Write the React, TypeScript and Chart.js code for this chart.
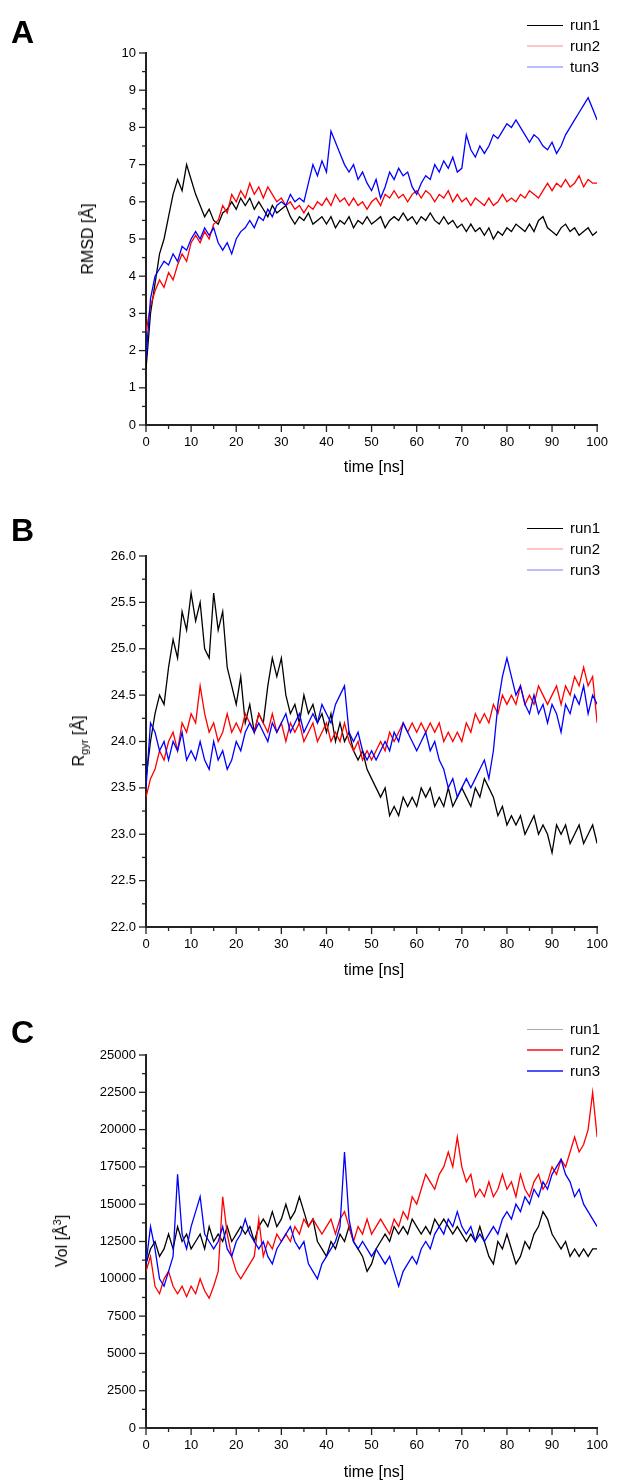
import React, { useEffect, useRef } from 'react';
import { Chart, registerables } from 'chart.js';

Chart.register(...registerables);

const FONT = "'Liberation Sans', Arial, Helvetica, sans-serif";

// time axis (ns)
const times = [
  0, 1, 2, 3, 4, 5, 6, 7, 8, 9, 10, 11, 12, 13, 14, 15, 16, 17, 18, 19, 20,
  21, 22, 23, 24, 25, 26, 27, 28, 29, 30, 31, 32, 33, 34, 35, 36, 37, 38, 39, 40,
  41, 42, 43, 44, 45, 46, 47, 48, 49, 50, 51, 52, 53, 54, 55, 56, 57, 58, 59, 60,
  61, 62, 63, 64, 65, 66, 67, 68, 69, 70, 71, 72, 73, 74, 75, 76, 77, 78, 79, 80,
  81, 82, 83, 84, 85, 86, 87, 88, 89, 90, 91, 92, 93, 94, 95, 96, 97, 98, 99, 100,
];

const legendA = ['run1', 'run2', 'tun3'];
const legendB = ['run1', 'run2', 'run3'];
const legendC = ['run1', 'run2', 'run3'];

// Panel A: RMSD [Å]
const rmsdRun1 = [
  1.5, 3.0, 3.8, 4.6, 5.0, 5.6, 6.2, 6.6, 6.3, 7.0, 6.6, 6.2, 5.9, 5.6, 5.8, 5.5, 5.4, 5.7, 5.8, 6.0, 5.8,
  6.1, 5.9, 6.1, 5.8, 6.0, 5.8, 5.6, 5.9, 5.7, 5.8, 5.9, 5.6, 5.4, 5.6, 5.5, 5.7, 5.4, 5.5, 5.6, 5.4,
  5.6, 5.3, 5.5, 5.4, 5.6, 5.3, 5.5, 5.4, 5.6, 5.4, 5.5, 5.6, 5.3, 5.5, 5.6, 5.5, 5.7, 5.5, 5.6, 5.4,
  5.6, 5.5, 5.7, 5.5, 5.4, 5.6, 5.4, 5.5, 5.3, 5.4, 5.2, 5.4, 5.2, 5.3, 5.1, 5.3, 5.0, 5.2, 5.1, 5.3,
  5.2, 5.4, 5.3, 5.2, 5.4, 5.2, 5.5, 5.6, 5.3, 5.2, 5.1, 5.3, 5.4, 5.2, 5.3, 5.1, 5.2, 5.3, 5.1, 5.2,
];
const rmsdRun2 = [
  2.5, 3.2, 3.6, 3.9, 3.7, 4.1, 3.9, 4.3, 4.6, 4.4, 4.9, 5.1, 4.9, 5.2, 5.0, 5.4, 5.5, 5.9, 5.7, 6.2, 6.0,
  6.3, 6.1, 6.5, 6.2, 6.4, 6.1, 6.4, 6.2, 6.0, 6.1, 5.9, 6.0, 5.8, 5.9, 5.7, 5.9, 5.8, 6.0, 5.9, 6.1,
  5.9, 6.2, 6.0, 6.1, 5.9, 6.1, 5.9, 6.0, 5.8, 6.0, 6.1, 5.9, 6.2, 6.1, 6.3, 6.1, 6.2, 6.0, 6.2, 6.3,
  6.1, 6.3, 6.2, 6.0, 6.2, 6.1, 6.3, 6.0, 6.2, 6.0, 6.1, 5.9, 6.1, 6.0, 5.9, 6.1, 5.9, 6.0, 6.2, 6.0,
  6.1, 6.0, 6.2, 6.1, 6.3, 6.2, 6.1, 6.3, 6.5, 6.3, 6.5, 6.4, 6.6, 6.4, 6.5, 6.7, 6.4, 6.6, 6.5, 6.5,
];
const rmsdRun3 = [
  1.8, 3.4, 4.0, 4.2, 4.4, 4.3, 4.6, 4.4, 4.8, 4.7, 5.0, 5.2, 5.0, 5.3, 5.1, 5.3, 4.9, 4.7, 4.9, 4.6, 5.0,
  5.2, 5.3, 5.5, 5.3, 5.6, 5.5, 5.8, 5.6, 5.9, 6.0, 5.9, 6.2, 6.0, 6.1, 6.0, 6.5, 7.0, 6.7, 7.1, 6.8,
  7.9, 7.6, 7.3, 7.0, 6.8, 7.0, 6.6, 6.8, 6.5, 6.3, 6.6, 6.1, 6.4, 6.8, 6.6, 6.9, 6.7, 6.8, 6.4, 6.2,
  6.5, 6.7, 6.6, 7.0, 6.8, 7.1, 6.9, 7.2, 6.8, 6.9, 7.8, 7.4, 7.2, 7.5, 7.3, 7.5, 7.8, 7.7, 7.9, 8.1,
  8.0, 8.2, 8.0, 7.8, 7.6, 7.8, 7.7, 7.5, 7.4, 7.6, 7.3, 7.5, 7.8, 8.0, 8.2, 8.4, 8.6, 8.8, 8.5, 8.2,
];

// Panel B: Rgyr [Å]
const rgyrRun1 = [
  23.6, 24.0, 24.3, 24.5, 24.4, 24.8, 25.1, 24.9, 25.4, 25.2, 25.6, 25.3, 25.5, 25.0, 24.9, 25.6, 25.2, 25.4, 24.8, 24.6, 24.4,
  24.7, 24.2, 24.4, 24.1, 24.3, 24.2, 24.6, 24.9, 24.7, 24.9, 24.5, 24.3, 24.4, 24.2, 24.5, 24.3, 24.4, 24.2, 24.3, 24.1,
  24.3, 24.0, 24.2, 24.0, 24.1, 23.9, 23.8, 23.9, 23.7, 23.6, 23.5, 23.4, 23.5, 23.2, 23.3, 23.2, 23.4, 23.3, 23.4, 23.3,
  23.5, 23.4, 23.5, 23.3, 23.4, 23.3, 23.5, 23.3, 23.4, 23.5, 23.4, 23.3, 23.5, 23.4, 23.6, 23.5, 23.4, 23.2, 23.3, 23.1,
  23.2, 23.1, 23.2, 23.0, 23.1, 23.2, 23.0, 23.1, 23.0, 22.8, 23.1, 23.0, 23.1, 22.9, 23.0, 23.1, 22.9, 23.0, 23.1, 22.9,
];
const rgyrRun2 = [
  23.4, 23.6, 23.7, 23.9, 23.8, 24.0, 24.1, 23.9, 24.2, 24.1, 24.3, 24.2, 24.6, 24.3, 24.1, 24.2, 24.0, 24.1, 24.3, 24.1, 24.2,
  24.1, 24.3, 24.2, 24.1, 24.3, 24.2, 24.1, 24.3, 24.1, 24.2, 24.0, 24.2, 24.1, 24.2, 24.0, 24.1, 24.2, 24.0, 24.1, 24.2,
  24.0, 24.1, 24.0, 24.2, 24.0, 23.9, 24.0, 23.8, 23.9, 23.8, 23.9, 24.0, 23.9, 24.1, 24.0, 24.1, 24.2, 24.1, 24.2, 24.1,
  24.2, 24.1, 24.2, 24.1, 24.2, 24.0, 24.1, 24.0, 24.1, 24.0, 24.2, 24.1, 24.3, 24.2, 24.3, 24.2, 24.4, 24.3, 24.5, 24.4,
  24.5, 24.4, 24.6, 24.4, 24.5, 24.4, 24.6, 24.5, 24.4, 24.5, 24.6, 24.4, 24.6, 24.5, 24.7, 24.6, 24.8, 24.6, 24.7, 24.2,
];
const rgyrRun3 = [
  23.5, 24.2, 24.1, 23.9, 24.0, 23.8, 24.0, 23.9, 24.1, 23.8, 23.9, 23.8, 24.0, 23.8, 23.7, 24.0, 23.8, 23.9, 23.7, 23.8, 24.0,
  23.9, 24.1, 24.2, 24.1, 24.2, 24.1, 24.0, 24.2, 24.1, 24.2, 24.3, 24.1, 24.2, 24.3, 24.1, 24.2, 24.3, 24.2, 24.4, 24.3,
  24.2, 24.4, 24.5, 24.6, 24.1, 24.0, 24.1, 23.9, 23.8, 23.9, 23.8, 23.9, 24.0, 23.9, 24.1, 24.0, 24.2, 24.1, 24.0, 23.9,
  24.0, 24.1, 23.9, 24.0, 23.8, 23.7, 23.5, 23.6, 23.4, 23.5, 23.6, 23.5, 23.6, 23.7, 23.8, 23.6, 23.9, 24.4, 24.7, 24.9,
  24.7, 24.5, 24.6, 24.4, 24.3, 24.5, 24.3, 24.4, 24.2, 24.4, 24.3, 24.1, 24.4, 24.3, 24.5, 24.4, 24.6, 24.3, 24.5, 24.4,
];

// Panel C: Vol [Å³]
const volRun1 = [
  11000, 12000, 12500, 11500, 12000, 13000, 12000, 13500, 12500, 13000, 12000, 12500, 13000, 12000, 13500, 12500, 13000, 12500, 13500, 12500, 13000,
  13500, 13000, 13500, 12500, 13500, 14000, 13500, 14500, 13500, 14000, 15000, 14000, 14500, 15500, 14500, 13500, 14000, 12500, 12000, 11500,
  12500, 12000, 13000, 12500, 13500, 12500, 12000, 11500, 10500, 11000, 12000, 12500, 13000, 12500, 13500, 13000, 13500, 13000, 14000, 13500,
  13000, 13500, 13000, 14000, 13500, 14000, 13500, 13000, 13500, 13000, 12500, 13000, 12500, 13500, 12500, 11500, 11000, 12500, 12000, 13000,
  12000, 11000, 11500, 12500, 12000, 13000, 13500, 14500, 14000, 13000, 12500, 12000, 12500, 11500, 12000, 11500, 12000, 11500, 12000, 12000,
];
const volRun2 = [
  10500, 11500, 9500, 9000, 10000, 10500, 9500, 9000, 9500, 8800, 9500, 9000, 10000, 9200, 8700, 9500, 10500, 15500, 13000, 11500, 10500,
  10000, 10500, 11000, 11500, 14000, 11500, 12500, 12000, 13000, 12500, 13000, 12500, 13500, 13000, 14000, 13500, 14000, 13500, 13000, 13500,
  14000, 13000, 14000, 14500, 13500, 12500, 13500, 13000, 14000, 13000, 13500, 14000, 13500, 13000, 14000, 13500, 14500, 14000, 15500, 15000,
  16000, 17000, 16500, 16000, 17000, 17500, 18500, 17500, 19500, 17500, 16500, 17000, 15500, 16000, 15500, 16500, 15500, 16000, 17000, 16000,
  16500, 15500, 17000, 16000, 15500, 16500, 17000, 16000, 16500, 17500, 17000, 18000, 17500, 18500, 19500, 18500, 19000, 20000, 22500, 19500,
];
const volRun3 = [
  11000, 13500, 12000, 10000, 9500, 10500, 11500, 17000, 13000, 12000, 13500, 14500, 15500, 13000, 12500, 12000, 12500, 13500, 12000, 11500, 12500,
  13000, 14000, 13000, 12500, 12000, 12500, 11500, 11000, 12000, 12500, 13000, 13500, 12500, 12000, 12500, 11000, 10500, 10000, 11000, 11500,
  12000, 12500, 13500, 18500, 14000, 12500, 12000, 12500, 12000, 11500, 12000, 11500, 11000, 11500, 10500, 9500, 10500, 11000, 11500, 11000,
  12000, 12500, 12000, 13000, 13500, 13000, 14000, 13500, 14500, 13500, 13000, 13500, 12500, 13000, 12500, 13000, 13500, 13000, 14000, 14500,
  14000, 15000, 14500, 15500, 15000, 16000, 15500, 16500, 16000, 17000, 17500, 18000, 17000, 16500, 15500, 16000, 15000, 14500, 14000, 13500,
];

const COLORS = ['#000000', '#ff0000', '#0000ff'];

type PanelProps = {
  top: number;
  height: number;
  plotTop: number;
  plotBottom: number;
  yMin: number;
  yMax: number;
  yStep: number;
  yMajor: number;
  yDecimals: number;
  names: string[];
  series: number[][];
};

function isMajor(v: number, major: number) {
  const r = v / major;
  return Math.abs(r - Math.round(r)) < 1e-6;
}

function PanelChart(p: PanelProps) {
  const ref = useRef<HTMLCanvasElement>(null);
  useEffect(() => {
    const canvas = ref.current;
    if (!canvas) return;
    const padTop = p.plotTop - p.top;
    const xH = p.top + p.height - p.plotBottom;
    const tickPlugin = {
      id: 'minorMajorTicks',
      afterDraw(chart: any) {
        const ctx = chart.ctx;
        const { left, bottom } = chart.chartArea;
        ctx.save();
        ctx.strokeStyle = '#222';
        ctx.lineWidth = 1.3;
        const xs = chart.scales.x;
        xs.ticks.forEach((t: any) => {
          const px = xs.getPixelForValue(t.value);
          const len = isMajor(t.value, 10) ? 7 : 4;
          ctx.beginPath();
          ctx.moveTo(px, bottom);
          ctx.lineTo(px, bottom + len);
          ctx.stroke();
        });
        const ys = chart.scales.y;
        ys.ticks.forEach((t: any) => {
          const py = ys.getPixelForValue(t.value);
          const len = isMajor(t.value, p.yMajor) ? 7 : 4;
          ctx.beginPath();
          ctx.moveTo(left - len, py);
          ctx.lineTo(left, py);
          ctx.stroke();
        });
        ctx.restore();
      },
    };
    const n = p.series.length;
    const chart = new Chart(canvas, {
      type: 'line',
      data: {
        datasets: p.series.map((vals, i) => ({
          label: p.names[i],
          data: times.map((t, j) => ({ x: t, y: vals[j] })),
          borderColor: COLORS[i],
          backgroundColor: COLORS[i],
          borderWidth: 1.3,
          pointRadius: 0,
          tension: 0,
          fill: false,
          order: n - 1 - i,
        })),
      },
      options: {
        responsive: false,
        animation: false,
        events: [],
        layout: { padding: { top: padTop, right: 15, left: 0, bottom: 0 } },
        plugins: {
          legend: { display: false },
          tooltip: { enabled: false },
          title: { display: false },
        },
        scales: {
          x: {
            type: 'linear',
            min: 0,
            max: 100,
            afterFit: (s: any) => {
              s.height = xH;
            },
            grid: { display: false, drawTicks: false },
            border: { display: true, color: '#222', width: 2 },
            ticks: {
              stepSize: 5,
              autoSkip: false,
              maxRotation: 0,
              padding: 10,
              color: '#000',
              font: { size: 13, family: FONT },
              callback: (v: any) => (isMajor(Number(v), 10) ? String(v) : ''),
            },
          },
          y: {
            type: 'linear',
            min: p.yMin,
            max: p.yMax,
            afterFit: (s: any) => {
              s.width = 146;
            },
            grid: { display: false, drawTicks: false },
            border: { display: true, color: '#222', width: 2 },
            ticks: {
              stepSize: p.yStep,
              autoSkip: false,
              padding: 10,
              color: '#000',
              font: { size: 13, family: FONT },
              callback: (v: any) =>
                isMajor(Number(v), p.yMajor) ? Number(v).toFixed(p.yDecimals) : '',
            },
          },
        },
      },
      plugins: [tickPlugin],
    } as any);
    return () => chart.destroy();
  }, []);
  return (
    <canvas
      ref={ref}
      width={618}
      height={p.height}
      style={{ position: 'absolute', left: 0, top: p.top, width: 618, height: p.height, display: 'block' }}
    />
  );
}

type LegendItem = { name: string; color: string; width: number };

function Legend({ top, items }: { top: number; items: LegendItem[] }) {
  return (
    <>
      {items.map((it, i) => (
        <div
          key={i}
          style={{ position: 'absolute', left: 527, top: top + i * 21 - 10, height: 20, width: 91, display: 'flex', alignItems: 'center' }}
        >
          <div style={{ width: 36, height: it.width, background: it.color, marginRight: 7 }} />
          <span style={{ fontSize: 15, lineHeight: '20px', color: '#000' }}>{it.name}</span>
        </div>
      ))}
    </>
  );
}

const abs = (left: number, top: number, extra: React.CSSProperties = {}): React.CSSProperties => ({
  position: 'absolute',
  left,
  top,
  whiteSpace: 'nowrap',
  ...extra,
});

export default function App() {
  useEffect(() => {
    document.body.style.margin = '0';
  }, []);
  const letter: React.CSSProperties = { fontSize: 32, fontWeight: 'bold', lineHeight: '32px' };
  const xTitle: React.CSSProperties = { fontSize: 16, transform: 'translate(-50%, -50%)' };
  const yTitle: React.CSSProperties = { fontSize: 16, transform: 'translate(-50%, -50%) rotate(-90deg)' };
  return (
    <div style={{ position: 'absolute', left: 0, top: 0, width: 618, height: 1481, fontFamily: FONT, background: '#fff', overflow: 'hidden' }}>
      <PanelChart top={0} height={500} plotTop={53} plotBottom={425} yMin={0} yMax={10} yStep={0.5} yMajor={1} yDecimals={0} names={legendA} series={[rmsdRun1, rmsdRun2, rmsdRun3]} />
      <PanelChart top={500} height={500} plotTop={556} plotBottom={927} yMin={22} yMax={26} yStep={0.25} yMajor={0.5} yDecimals={1} names={legendB} series={[rgyrRun1, rgyrRun2, rgyrRun3]} />
      <PanelChart top={1000} height={481} plotTop={1055} plotBottom={1428} yMin={0} yMax={25000} yStep={1250} yMajor={2500} yDecimals={0} names={legendC} series={[volRun1, volRun2, volRun3]} />

      <div style={abs(11, 16, letter)}>A</div>
      <div style={abs(11, 514, letter)}>B</div>
      <div style={abs(11, 1016, letter)}>C</div>

      <Legend top={25} items={[
        { name: legendA[0], color: '#000', width: 1 },
        { name: legendA[1], color: '#ffc4c4', width: 1.5 },
        { name: legendA[2], color: '#bcbcff', width: 1.5 },
      ]} />
      <Legend top={528} items={[
        { name: legendB[0], color: '#000', width: 1 },
        { name: legendB[1], color: '#ffc4c4', width: 1.5 },
        { name: legendB[2], color: '#bcbcff', width: 1.5 },
      ]} />
      <Legend top={1029} items={[
        { name: legendC[0], color: '#aaaaaa', width: 1 },
        { name: legendC[1], color: '#ff4a4a', width: 1.5 },
        { name: legendC[2], color: '#5050ff', width: 2.5 },
      ]} />

      <div style={abs(374, 467, xTitle)}>time [ns]</div>
      <div style={abs(374, 970, xTitle)}>time [ns]</div>
      <div style={abs(374, 1472, xTitle)}>time [ns]</div>

      <div style={abs(88, 239, yTitle)}>RMSD [Å]</div>
      <div style={abs(79, 741, yTitle)}>
        R<sub style={{ fontSize: 11, verticalAlign: 'sub', lineHeight: 0 }}>gyr</sub> [Å]
      </div>
      <div style={abs(62, 1241, yTitle)}>
        Vol [Å<sup style={{ fontSize: 11, verticalAlign: 'super', lineHeight: 0 }}>3</sup>]
      </div>
    </div>
  );
}
